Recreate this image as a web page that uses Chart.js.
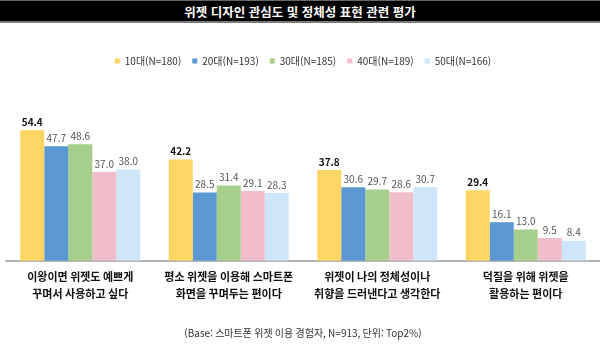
<!DOCTYPE html>
<html lang="ko">
<head>
<meta charset="utf-8">
<script src="https://cdn.jsdelivr.net/npm/chart.js@4/dist/chart.umd.min.js"></script>
<style>
  html, body { margin: 0; padding: 0; background: #fff; }
  #wrap { position: relative; width: 600px; height: 348px; }
  #titlebar {
    position: absolute; left: 0; top: 0; width: 600px; height: 20px;
    background: #000; border-top: 1px solid #666; border-bottom: 2px solid #7a7a7a;
    color: #fff; font: 600 12.5px "Noto Sans CJK KR", "Noto Sans", sans-serif;
    text-align: center; line-height: 21px; z-index: 2;
  }
  canvas { position: absolute; left: 0; top: 0; }
</style>
</head>
<body>
<div id="wrap">
  <div id="titlebar">위젯 디자인 관심도 및 정체성 표현 관련 평가</div>
  <canvas id="chart" width="600" height="348"></canvas>
</div>
<script>
// 위젯 디자인 관심도 및 정체성 표현 관련 평가 (단위: Top2%)
const categories = [
  ['이왕이면 위젯도 예쁘게', '꾸며서 사용하고 싶다'],
  ['평소 위젯을 이용해 스마트폰', '화면을 꾸며두는 편이다'],
  ['위젯이 나의 정체성이나', '취향을 드러낸다고 생각한다'],
  ['덕질을 위해 위젯을', '활용하는 편이다']
];
const seriesNames = ['10대(N=180)', '20대(N=193)', '30대(N=185)', '40대(N=189)', '50대(N=166)'];
const teens   = [54.4, 42.2, 37.8, 29.4];
const twenties = [47.7, 28.5, 30.6, 16.1];
const thirties = [48.6, 31.4, 29.7, 13.0];
const forties  = [37.0, 29.1, 28.6, 9.5];
const fifties  = [38.0, 28.3, 30.7, 8.4];
const colors = ['#FDD562', '#5A97D3', '#A6CF8C', '#F1BDCB', '#CDE6FA'];

const KR = '"Noto Sans CJK KR", "Noto Sans", sans-serif';

// 막대 위 값 표시
const valueLabels = {
  id: 'valueLabels',
  afterDatasetsDraw(chart) {
    const ctx = chart.ctx;
    ctx.save();
    ctx.textAlign = 'center';
    ctx.textBaseline = 'bottom';
    chart.data.datasets.forEach((ds, i) => {
      const meta = chart.getDatasetMeta(i);
      ctx.font = (i === 0 ? 'bold ' : '') + '10px ' + KR;
      ctx.fillStyle = i === 0 ? '#111' : '#555';
      meta.data.forEach((bar, j) => {
        ctx.fillText(ds.data[j].toFixed(1), bar.x, bar.y - 3);
      });
    });
    ctx.restore();
  }
};

new Chart(document.getElementById('chart'), {
  type: 'bar',
  data: {
    labels: categories,
    datasets: [teens, twenties, thirties, forties, fifties].map((d, i) => ({
      label: seriesNames[i],
      data: d,
      backgroundColor: colors[i],
      categoryPercentage: 0.808,
      barPercentage: 1.0
    }))
  },
  options: {
    responsive: false,
    animation: false,
    layout: { padding: { top: 45, left: 6, right: 0, bottom: 0 } },
    plugins: {
      legend: {
        position: 'top',
        labels: {
          boxWidth: 5, boxHeight: 5, padding: 11,
          color: '#333', font: { size: 10, family: KR }
        }
      },
      tooltip: { enabled: false }
    },
    scales: {
      x: {
        grid: { display: false, drawTicks: false },
        border: { display: true, color: '#b3b3b3', width: 2 },
        ticks: {
          color: '#111', padding: 7,
          font: { size: 11, family: KR, weight: '600', lineHeight: 1.6 },
          maxRotation: 0, autoSkip: false
        },
        title: {
          display: true,
          text: '(Base: 스마트폰 위젯 이용 경험자, N=913, 단위: Top2%)',
          color: '#333', font: { size: 10, family: KR },
          padding: { top: 17, bottom: 9 }
        }
      },
      y: { display: false, min: 0, max: 77 }
    }
  },
  plugins: [valueLabels]
});
</script>
</body>
</html>
